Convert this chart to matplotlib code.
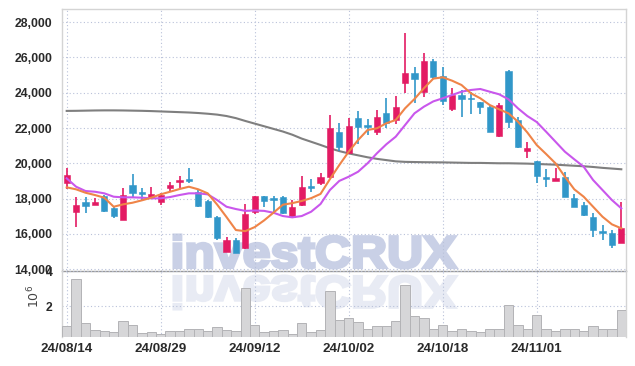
import matplotlib
matplotlib.use("Agg")
import matplotlib.pyplot as plt
import numpy as np
from matplotlib.font_manager import FontProperties
from matplotlib.patches import PathPatch
from matplotlib.textpath import TextPath
from matplotlib.transforms import Affine2D, IdentityTransform

dates = [
    "24/08/14", "24/08/16", "24/08/19", "24/08/20", "24/08/21", "24/08/22", "24/08/23",
    "24/08/26", "24/08/27", "24/08/28", "24/08/29", "24/08/30", "24/09/02", "24/09/03",
    "24/09/04", "24/09/05", "24/09/06", "24/09/09", "24/09/10", "24/09/11", "24/09/12",
    "24/09/13", "24/09/19", "24/09/20", "24/09/23", "24/09/24", "24/09/25", "24/09/26",
    "24/09/27", "24/09/30", "24/10/02", "24/10/04", "24/10/07", "24/10/08", "24/10/10",
    "24/10/11", "24/10/14", "24/10/15", "24/10/16", "24/10/17", "24/10/18", "24/10/21",
    "24/10/22", "24/10/23", "24/10/24", "24/10/25", "24/10/28", "24/10/29", "24/10/30",
    "24/10/31", "24/11/01", "24/11/04", "24/11/05", "24/11/06", "24/11/07", "24/11/08",
    "24/11/11", "24/11/12", "24/11/13", "24/11/14",
]

opens = [18860, 17220, 17800, 17650, 18140, 17480, 16780, 18770, 18350, 18090,
         17780, 18610, 18950, 19100, 18390, 17860, 16970, 14980, 15640, 15210,
         17250, 18140, 18030, 18100, 16970, 17630, 18730, 18860, 19200, 21790,
         20570, 22550, 22170, 21790, 22830, 22450, 24540, 25100, 24060, 25820,
         24950, 23080, 23870, 23700, 23460, 23180, 21560, 25230, 22460, 20710,
         20130, 19200, 19010, 19240, 18010, 17630, 16930, 16170, 16060, 15490]
highs = [19710, 18100, 18100, 18050, 18200, 17540, 18580, 19370, 18580, 18670,
         18330, 18950, 19290, 19710, 18480, 17920, 17000, 15830, 15740, 17670,
         18140, 18160, 18140, 18120, 17920, 19290, 19090, 19430, 22740, 22270,
         22550, 22970, 22500, 23020, 23690, 23820, 27370, 25440, 26240, 25900,
         25440, 24250, 24160, 24060, 23500, 23300, 23400, 25300, 22650, 21190,
         20150, 19660, 19710, 19500, 18240, 17820, 17160, 16500, 16200, 17820]
lows = [18540, 16400, 17160, 17630, 17220, 16880, 16780, 18100, 17920, 18060,
        17630, 18350, 18580, 18880, 17540, 16880, 15650, 14950, 14900, 15150,
        17120, 17500, 17190, 17150, 16880, 17600, 18390, 18750, 19150, 20710,
        20500, 21080, 21600, 21600, 21980, 22200, 23970, 23400, 23780, 24800,
        23300, 22990, 22640, 22800, 22800, 21760, 21500, 21980, 20850, 20280,
        18860, 18670, 18990, 18100, 17500, 17000, 15830, 15650, 15170, 15490]
closes = [19330, 17630, 17590, 17800, 17310, 17010, 18200, 18330, 18260, 18260,
          18200, 18770, 19070, 19010, 17590, 16970, 15780, 15650, 14930, 17100,
          18140, 17880, 17920, 17190, 17500, 18670, 18610, 19200, 21980, 20910,
          22110, 22070, 22080, 22640, 22270, 23210, 25100, 24780, 25800, 24910,
          23550, 23870, 23650, 23650, 23180, 21760, 23300, 22320, 20940, 20880,
          19290, 19110, 19150, 18100, 17540, 17060, 16210, 16030, 15360, 16310]

# volume in millions of shares
volumes = [0.89, 3.53, 1.07, 0.62, 0.57, 0.51, 1.18, 0.96, 0.45, 0.51,
           0.40, 0.57, 0.57, 0.73, 0.68, 0.57, 0.82, 0.64, 0.58, 3.03,
           0.96, 0.51, 0.57, 0.62, 0.40, 1.07, 0.51, 0.62, 2.88, 1.24,
           1.35, 1.13, 0.68, 0.85, 0.90, 1.18, 3.20, 1.46, 1.35, 0.73,
           0.96, 0.57, 0.73, 0.57, 0.51, 0.68, 0.73, 2.08, 0.96, 0.68,
           1.52, 0.73, 0.57, 0.68, 0.73, 0.57, 0.85, 0.73, 0.68, 1.80]

ma_short = [18635, 18522, 18330, 18199, 18047, 17535, 17670, 17762, 17898, 18047,
            18238, 18386, 18539, 18670, 18522, 18295, 17660, 16950, 16213, 16150,
            16380, 16760, 17200, 17650, 17740, 17860, 18020, 18260, 19100, 19900,
            20656, 21319, 21887, 21983, 22267, 22455, 23119, 23646, 24253, 24800,
            24877, 24684, 24440, 23970, 23686, 23305, 23060, 22834, 22360, 21750,
            21035, 20525, 19997, 19237, 18522, 18103, 17535, 16968, 16536, 16310]
ma_mid = [19146, 18670, 18426, 18386, 18295, 18103, 18068, 18068, 18047, 18011,
          18011, 18085, 18199, 18295, 18295, 18238, 17915, 17535, 17404, 17300,
          17320, 17300, 17194, 17007, 16933, 17007, 17251, 17688, 18482, 19000,
          19237, 19521, 19997, 20565, 21075, 21507, 22171, 22834, 23209, 23510,
          23686, 23873, 24060, 24157, 24213, 24060, 23913, 23630, 23119, 22681,
          22340, 21790, 21223, 20656, 20224, 19804, 19050, 18482, 17915, 17444]
ma_long = [22970, 22975, 22985, 22995, 23000, 23000, 22995, 22985, 22975, 22960,
           22940, 22920, 22900, 22880, 22850, 22810, 22760, 22680, 22560, 22400,
           22250, 22100, 21950, 21800, 21620, 21400, 21220, 21040, 20850, 20690,
           20560, 20450, 20340, 20250, 20180, 20110, 20080, 20070, 20060, 20055,
           20050, 20040, 20030, 20020, 20020, 20010, 20000, 20000, 19990, 19980,
           19960, 19940, 19920, 19890, 19860, 19830, 19790, 19740, 19700, 19660]

price_ticks = [14000, 16000, 18000, 20000, 22000, 24000, 26000, 28000]
label_every = 10

UP = "#e31b63"
DOWN = "#3197c9"
GRID = "#b9c1d9"
TICK_FONT = dict(family=["Liberation Sans", "DejaVu Sans"], weight="bold")

W, H = 635, 366
fig = plt.figure(figsize=(W / 100, H / 100), dpi=100, facecolor="white")


def px_axes(left, top, right, bottom):
    a = fig.add_axes([left / W, 1 - bottom / H, (right - left) / W, (bottom - top) / H])
    a.set_facecolor("none")
    return a


ax = px_axes(62, 9, 626, 271)
axv = px_axes(62, 271, 626, 337)

x = np.arange(len(dates))

# candles
for i in x:
    o, h, l, c = opens[i], highs[i], lows[i], closes[i]
    col = UP if c >= o else DOWN
    ax.vlines(i, l, h, color=col, linewidth=1.2, zorder=3)
    lo, hi = min(o, c), max(o, c)
    ax.bar(i, max(hi - lo, 40), bottom=lo, width=0.68, color=col,
           edgecolor=col, linewidth=0.4, zorder=4)

ax.plot(x, ma_long, color="#7f7f7f", linewidth=1.5, zorder=2)
ax.plot(x, ma_mid, color="#c957ec", linewidth=1.5, zorder=5)
ax.plot(x, ma_short, color="#ef8448", linewidth=1.5, zorder=5)

ax.set_xlim(-0.5, len(dates) - 0.5)
ax.set_ylim(13890, 28750)
ax.set_yticks(price_ticks)
ax.set_yticklabels([f"{v:,}" for v in price_ticks], fontdict=TICK_FONT, fontsize=8.8, color="#2a2a2a")
ax.set_xticks(x[::label_every])
ax.set_xticklabels([])
ax.tick_params(axis="both", length=0, pad=7)
ax.grid(True, color=GRID, linestyle=(0, (1, 2.2)), linewidth=0.8)
ax.set_axisbelow(True)

# volume
axv.bar(x, np.array(volumes) * 1e6, width=1.0, color="#d6d6d8", edgecolor="#b3b3b6",
        linewidth=0.7, zorder=3)
axv.set_xlim(-0.5, len(dates) - 0.5)
axv.set_ylim(0.25e6, 4.0e6)
axv.set_yticks([2e6, 4e6])
axv.set_yticklabels(["2", "4"], fontdict=TICK_FONT, fontsize=8.8, color="#2a2a2a")
axv.set_xticks(x[::label_every])
axv.set_xticklabels(dates[::label_every], fontdict=TICK_FONT, fontsize=9.6, color="#2a2a2a")
axv.tick_params(axis="both", length=0, pad=7)
axv.tick_params(axis="x", pad=4)
axv.grid(True, color=GRID, linestyle=(0, (1, 2.2)), linewidth=0.8)
axv.set_axisbelow(True)
fig.text(34 / W, 1 - 296 / H, r"$10^6$", rotation=90, ha="center", va="center",
         fontsize=9, color="#444444")

for a in (ax, axv):
    for side in ("left", "right", "top", "bottom"):
        a.spines[side].set_color("#d4d4d4")
        a.spines[side].set_linewidth(1.0)
ax.spines["bottom"].set_color("#9a9a9a")
axv.spines["top"].set_visible(False)
axv.spines["bottom"].set_visible(False)

# watermark with mirrored reflection, drawn behind the (transparent) axes
tp = TextPath((0, 0), "investCRUX", size=50,
              prop=FontProperties(family="Liberation Sans", weight="bold"))
bb = tp.get_extents()
sx = (456 - 174) / bb.width
sy = (268 - 235) / bb.height
main = Affine2D().translate(-bb.x0, -bb.y0).scale(sx, sy).translate(174, H - 268).transform_path(tp)
refl = Affine2D().translate(-bb.x0, -bb.y0).scale(sx, -sy).translate(174, H - 276).transform_path(tp)
fig.add_artist(PathPatch(refl, transform=IdentityTransform(), facecolor="#e8ebf4",
                         edgecolor="#e8ebf4", linewidth=2.2, zorder=-2))
fig.add_artist(PathPatch(main, transform=IdentityTransform(), facecolor="#c9d0e6",
                         edgecolor="#c9d0e6", linewidth=2.2, zorder=-1))

fig.savefig("out.png", dpi=100, facecolor="white")
